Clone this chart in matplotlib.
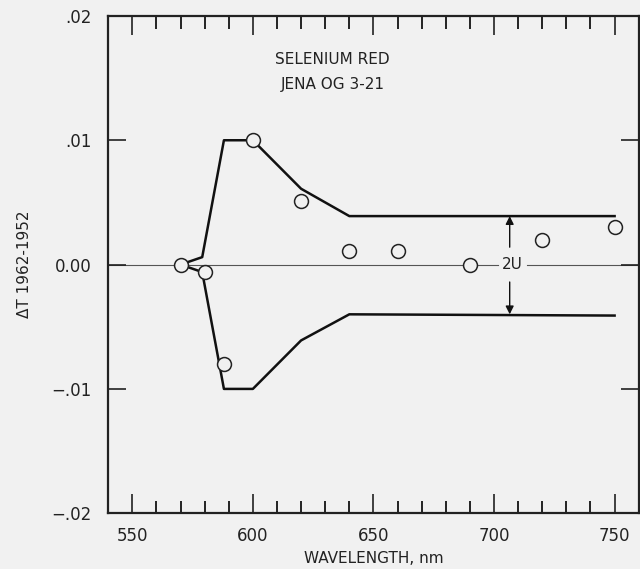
import matplotlib.pyplot as plt
from matplotlib.ticker import MultipleLocator, FixedLocator

# measured points (open circles)
wl_pts = [570, 580, 588, 600, 620, 640, 660, 690, 720, 750]
dt_pts = [0.0, -0.0006, -0.008, 0.010, 0.0051, 0.0011, 0.0011, 0.0, 0.0020, 0.0030]

# 2U envelope
env_wl = [570, 579, 588, 600, 620, 640, 750]
env_upper = [0.0, 0.0006, 0.010, 0.010, 0.0061, 0.0039, 0.0039]
env_lower = [0.0, -0.0006, -0.010, -0.010, -0.0061, -0.0040, -0.0041]

y_ticks = [0.01, 0.0, -0.01, 0.02, -0.02]
y_labels = [".01", "0.00", "\u2212.01", "\u2022O2", "\u2212.O2"]
y_labels = [".01", "0.00", "\u2212.01", ".02", "\u2212.02"]

bg = "#f1f1f1"
plt.rcParams["font.family"] = ["DejaVu Sans"]

fig = plt.figure(figsize=(6.4, 5.69), dpi=100, facecolor=bg)
ax = fig.add_axes([0.169, 0.098, 0.829, 0.874], facecolor=bg)

# zero line with a gap for the 2U label
ax.plot([540, 701.5], [0, 0], color="#555555", lw=0.8, zorder=1)
ax.plot([713.5, 760], [0, 0], color="#555555", lw=0.8, zorder=1)

ax.plot(env_wl, env_upper, color="#111111", lw=1.8, zorder=2)
ax.plot(env_wl, env_lower, color="#111111", lw=1.8, zorder=2)

ax.plot(wl_pts, dt_pts, "o", ms=10, mfc=bg, mec="#222222", mew=1.1, zorder=3)

# 2U arrows
ax.annotate("", xy=(706.5, 0.0039), xytext=(706.5, 0.0014),
            arrowprops=dict(arrowstyle="-|>", color="#111111", lw=1.0,
                            mutation_scale=12, shrinkA=0, shrinkB=0))
ax.annotate("", xy=(706.5, -0.0040), xytext=(706.5, -0.0014),
            arrowprops=dict(arrowstyle="-|>", color="#111111", lw=1.0,
                            mutation_scale=12, shrinkA=0, shrinkB=0))
ax.text(707.5, 0.0, "2U", ha="center", va="center", fontsize=11, color="#222222")

ax.text(633, 0.0165, "SELENIUM RED", ha="center", va="center", fontsize=11, color="#222222")
ax.text(633, 0.0145, "JENA OG 3-21", ha="center", va="center", fontsize=11, color="#222222")

ax.set_xlim(540, 760)
ax.set_ylim(-0.02, 0.02)

ax.xaxis.set_major_locator(MultipleLocator(50))
ax.xaxis.set_minor_locator(MultipleLocator(10))
ax.yaxis.set_major_locator(FixedLocator(y_ticks))
ax.set_yticklabels(y_labels)

ax.tick_params(axis="x", which="major", direction="in", length=14, width=1.2,
               top=True, bottom=True, labelsize=12, pad=10, colors="#222222")
ax.tick_params(axis="x", which="minor", direction="in", length=9, width=1.2,
               top=True, bottom=True)
ax.tick_params(axis="y", which="major", direction="in", length=13, width=1.2,
               left=True, right=True, labelsize=12, pad=12, colors="#222222")

for s in ax.spines.values():
    s.set_linewidth(1.6)
    s.set_color("#222222")

ax.set_xlabel("WAVELENGTH, nm", fontsize=11, color="#222222", labelpad=4)
ax.set_ylabel("\u0394T 1962-1952", fontsize=11, color="#222222", labelpad=14)

fig.savefig("out.png", dpi=100, facecolor=bg)
